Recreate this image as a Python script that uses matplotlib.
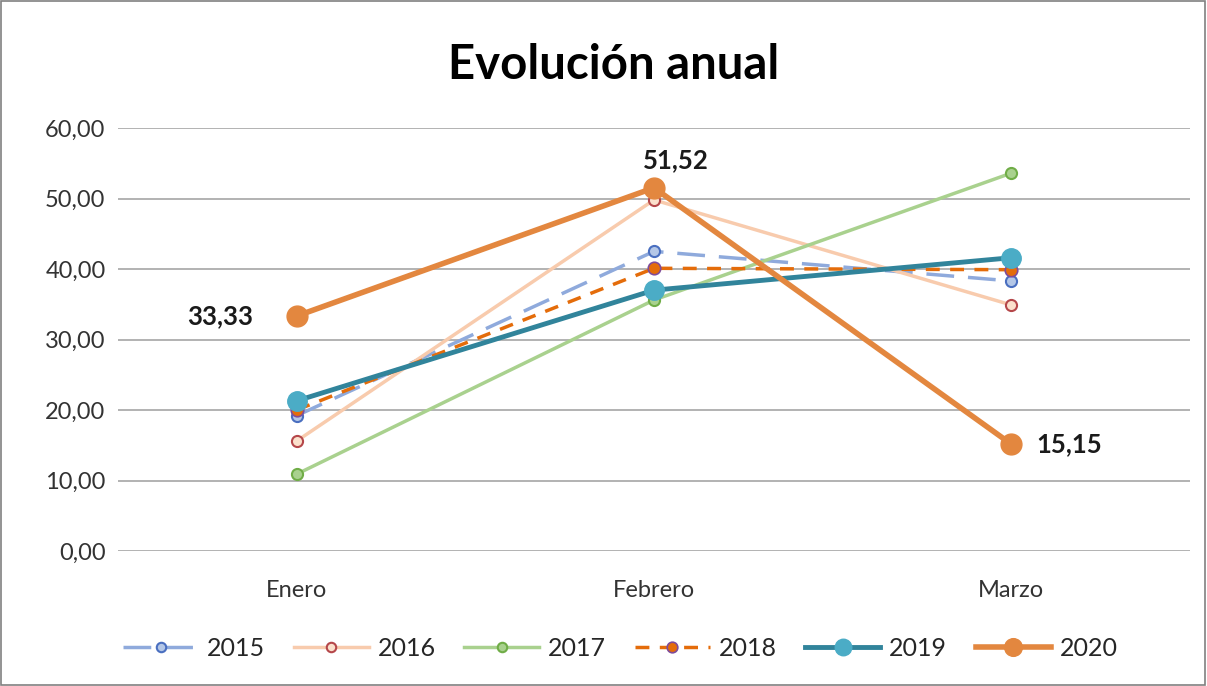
import matplotlib.pyplot as plt
from matplotlib.ticker import FuncFormatter
from matplotlib.patches import Rectangle

plt.rcParams['font.family'] = ['Lato', 'DejaVu Sans']

meses = ['Enero', 'Febrero', 'Marzo']
y2015 = [19.2, 42.5, 38.3]
y2016 = [15.6, 49.8, 34.9]
y2017 = [10.9, 35.6, 53.6]
y2018 = [20.0, 40.1, 39.9]
y2019 = [21.3, 37.0, 41.6]
y2020 = [33.33, 51.52, 15.15]

fig = plt.figure(figsize=(12.07, 6.86), dpi=100)
ax = fig.add_axes([118 / 1207, 1 - 551 / 686, 1072 / 1207, 423 / 686])
x = range(len(meses))

ax.plot(x, y2015, color='#8FAADC', lw=2.5, dashes=(8, 4), marker='o', ms=8,
        mfc='#B4C7E7', mec='#4A6FC0', mew=1.5, label='2015', zorder=3)
ax.plot(x, y2016, color='#F8CBAD', lw=2.5, marker='o', ms=8,
        mfc='#FBE0CC', mec='#B5474A', mew=1.5, label='2016', zorder=3)
ax.plot(x, y2017, color='#A9D18E', lw=2.5, marker='o', ms=8,
        mfc='#A9D18E', mec='#70AD47', mew=1.5, label='2017', zorder=3)
ax.plot(x, y2018, color='#E46C0A', lw=2.5, dashes=(4, 3), marker='o', ms=9,
        mfc='#E46C0A', mec='#7F4C9A', mew=1.2, label='2018', zorder=4)
ax.plot(x, y2019, color='#31849B', lw=3.5, marker='o', ms=14,
        mfc='#4BACC6', mec='#4BACC6', label='2019', zorder=5)
ax.plot(x, y2020, color='#E3873F', lw=4, marker='o', ms=15,
        mfc='#E3873F', mec='#E3873F', label='2020', zorder=6)

lab = lambda v: f'{v:.2f}'.replace('.', ',')
ax.annotate(lab(y2020[0]), (0, y2020[0]), xytext=(-31, 0), textcoords='offset points',
            ha='right', va='center', fontsize=18.5, fontweight='bold', color='#1a1a1a')
ax.annotate(lab(y2020[1]), (1, y2020[1]), xytext=(16, 20), textcoords='offset points',
            ha='center', va='center', fontsize=18.5, fontweight='bold', color='#1a1a1a')
ax.annotate(lab(y2020[2]), (2, y2020[2]), xytext=(18, 0), textcoords='offset points',
            ha='left', va='center', fontsize=18.5, fontweight='bold', color='#1a1a1a')

ax.set_xlim(-0.5, 2.5)
ax.set_ylim(0, 60)
ax.set_yticks(range(0, 61, 10))
ax.yaxis.set_major_formatter(FuncFormatter(lambda v, p: lab(v)))
ax.set_xticks(list(x))
ax.set_xticklabels(meses)
ax.grid(axis='y', color='#A6A6A6', lw=1.2)
ax.set_axisbelow(True)
for s in ax.spines.values():
    s.set_visible(False)
ax.tick_params(axis='both', length=0, labelsize=17, colors='#333333')
ax.tick_params(axis='x', pad=21)
ax.tick_params(axis='y', pad=9)

fig.suptitle('Evolución anual', x=614 / 1207, y=1 - 65 / 686, va='center',
             fontsize=34, fontweight='bold')

fig.legend(loc='center', bbox_to_anchor=(0.514, 1 - 648 / 686), ncol=6, frameon=False,
           fontsize=18, handlelength=3, columnspacing=1.15, handletextpad=0.35,
           markerscale=0.85, labelcolor='#262626')

fig.patches.append(Rectangle((0.001, 0.001), 0.997, 0.997, transform=fig.transFigure,
                             fill=False, edgecolor='#808080', lw=1.2))

fig.savefig('out.png', dpi=100)
